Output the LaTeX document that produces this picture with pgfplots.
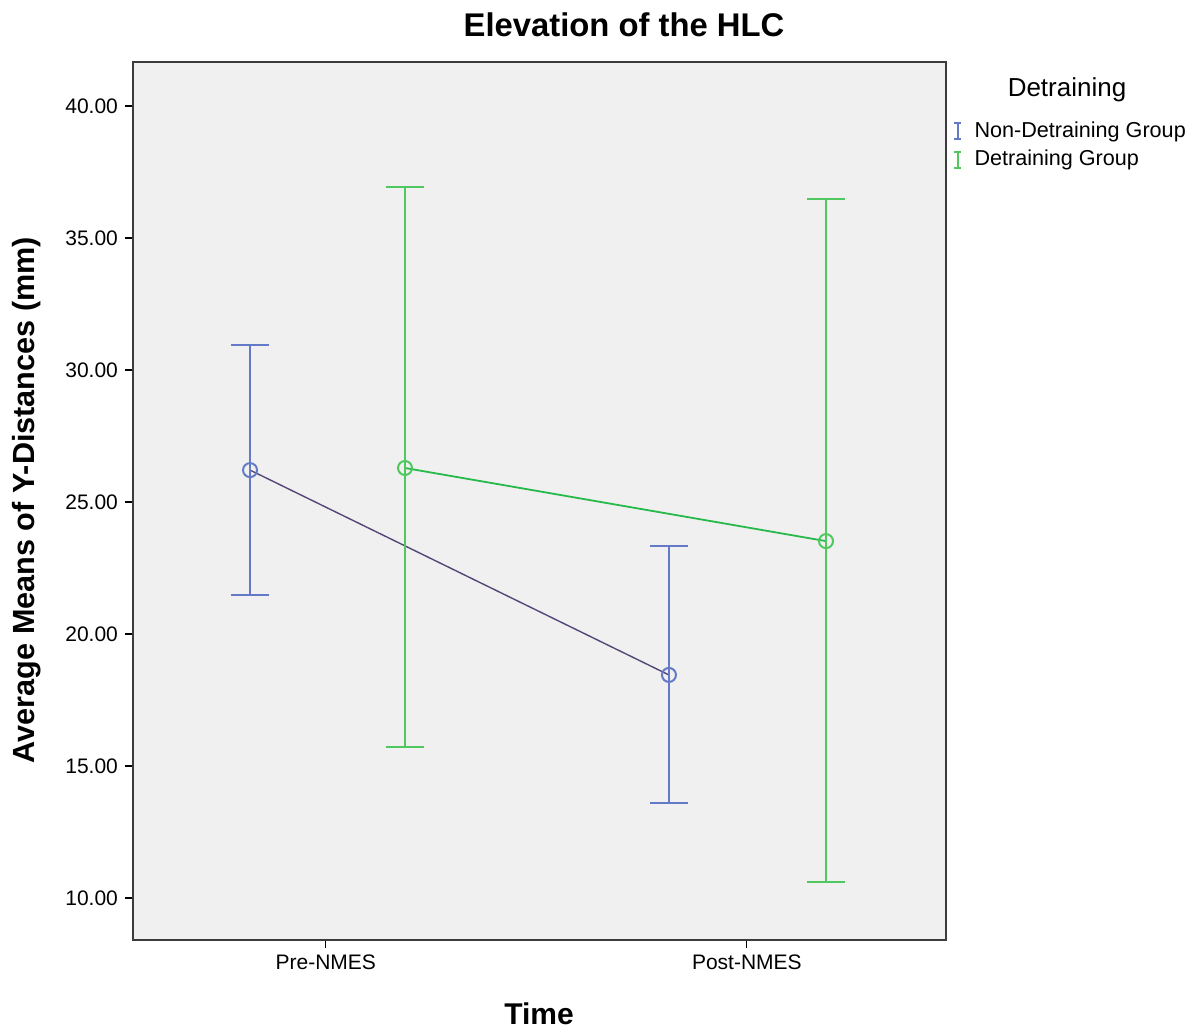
\documentclass[border=0pt]{standalone}
\usepackage{fontspec}
\setmainfont{Liberation Sans}
\usepackage{pgfplots}
\pgfplotsset{compat=1.18}
\definecolor{barblue}{RGB}{100,122,200}
\definecolor{linepurple}{RGB}{85,70,120}
\definecolor{bargreen}{RGB}{80,200,95}
\definecolor{linegreen}{RGB}{40,185,75}
\definecolor{bggray}{RGB}{240,240,240}
\definecolor{axgray}{RGB}{60,60,60}
\begin{document}
\begin{tikzpicture}
\path[use as bounding box] (-66.5pt,-45.5pt) rectangle (532pt,470pt);
\begin{axis}[
  scale only axis, width=406.5pt, height=439pt,
  at={(0,0)}, anchor=south west,
  xmin=-0.458, xmax=1.473, ymin=8.41, ymax=41.67,
  axis background/.style={fill=bggray},
  axis line style={axgray, line width=1pt},
  xtick={0,1}, xticklabels={Pre-NMES,Post-NMES},
  ytick={10,15,20,25,30,35,40},
  xtick pos=bottom, ytick pos=left,
  tick align=outside, major tick length=4pt,
  tick style={black, line width=0.6pt},
  /pgf/number format/.cd, fixed, fixed zerofill, precision=2, assume math mode=true,
  /pgfplots/.cd,
  tick label style={font=\fontsize{10.5pt}{12pt}\selectfont},
  legend style={at={(rel axis cs:1.008,0.936)}, anchor=north west, draw=none, fill=none,
    font=\fontsize{10.8pt}{13pt}\selectfont, row sep=2pt, inner sep=0pt,
    nodes={inner sep=1.5pt}},
  legend cell align=left,
]
\addlegendimage{legend image code/.code={
    \draw[draw=barblue, line width=1pt] (0pt,-4pt)--(0pt,4pt) (-1.8pt,4pt)--(1.8pt,4pt) (-1.8pt,-4pt)--(1.8pt,-4pt);
    \path[draw=none] (-2pt,0pt) -- (7pt,0pt);}}
\addlegendentry{Non-Detraining Group}
\addlegendimage{legend image code/.code={
    \draw[draw=bargreen, line width=1pt] (0pt,-4pt)--(0pt,4pt) (-1.8pt,4pt)--(1.8pt,4pt) (-1.8pt,-4pt)--(1.8pt,-4pt);
    \path[draw=none] (-2pt,0pt) -- (7pt,0pt);}}
\addlegendentry{Detraining Group}
\addplot[color=linepurple, line width=0.7pt, forget plot] coordinates {(-0.18,26.21) (0.815,18.45)};
\addplot[color=linegreen, line width=0.9pt, forget plot] coordinates {(0.188,26.29) (1.188,23.52)};
\addplot[color=barblue, only marks, mark=o, mark size=3.5pt, mark options={line width=1pt}, forget plot,
  error bars/.cd, y dir=both, y explicit,
  error bar style={line width=1.2pt, color=barblue},
  error mark options={rotate=90, mark size=9.5pt, line width=1.2pt, color=barblue}]
  coordinates {(-0.18,26.21) += (0,4.74) -= (0,4.73)
               (0.815,18.45) += (0,4.88) -= (0,4.85)};
\addplot[color=bargreen, only marks, mark=o, mark size=3.5pt, mark options={line width=1pt}, forget plot,
  error bars/.cd, y dir=both, y explicit,
  error bar style={line width=1.2pt, color=bargreen},
  error mark options={rotate=90, mark size=9.5pt, line width=1.2pt, color=bargreen}]
  coordinates {(0.188,26.29) += (0,10.64) -= (0,10.57)
               (1.188,23.52) += (0,12.96) -= (0,12.91)};
\end{axis}
\node[font=\bfseries\fontsize{16.4pt}{18pt}\selectfont] at (245.5pt,457.5pt) {Elevation of the HLC};
\node[font=\fontsize{13pt}{15pt}\selectfont] at (467pt,425pt) {Detraining};
\node[font=\bfseries\fontsize{15.3pt}{17pt}\selectfont, rotate=90] at (-53pt,220pt) {Average Means of Y-Distances (mm)};
\node[font=\bfseries\fontsize{15pt}{17pt}\selectfont, inner sep=1pt] at (203pt,-37pt) {Time};
\end{tikzpicture}
\end{document}
